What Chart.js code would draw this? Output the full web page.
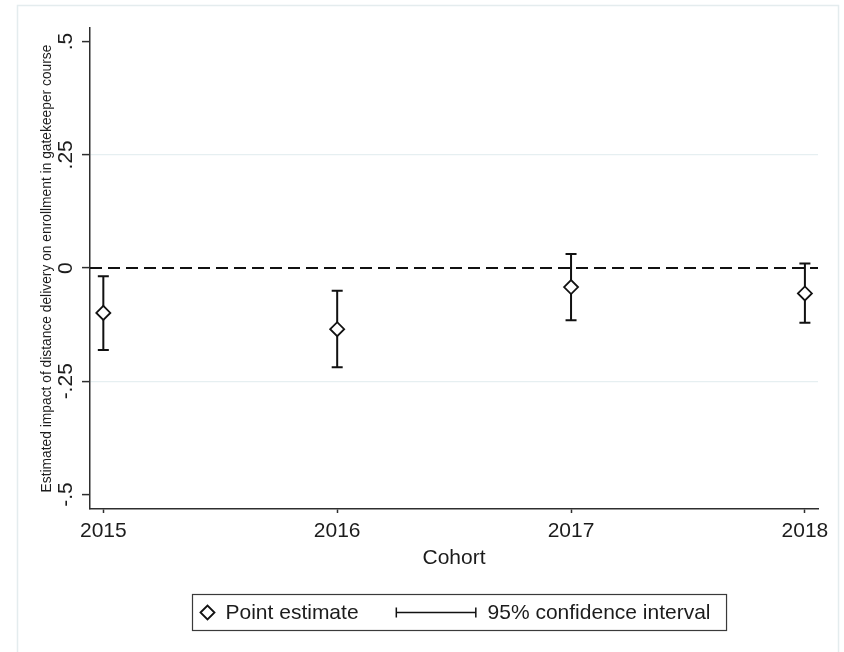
<!DOCTYPE html>
<html>
<head>
<meta charset="utf-8">
<script src="https://cdn.jsdelivr.net/npm/chart.js@4.4.0/dist/chart.umd.min.js"></script>
<style>
  html, body { margin: 0; padding: 0; background: #ffffff; }
  #wrap { width: 844px; height: 652px; }
  canvas { display: block; }
</style>
</head>
<body>
<div id="wrap"><canvas id="chart" width="844" height="652"></canvas></div>
<script>
// Cohorts and estimated effects with 95% confidence bounds
const cohorts = [2015, 2016, 2017, 2018];
const pointEstimate = [-0.099, -0.135, -0.042, -0.056];
const ciLower = [-0.181, -0.219, -0.115, -0.121];
const ciUpper = [-0.018, -0.050, 0.031, 0.010];
const yTicks = [-0.5, -0.25, 0, 0.25, 0.5];
const yTitle = 'Estimated impact of distance delivery on enrollment in gatekeeper course';
const xTitle = 'Cohort';
const legendLabels = ['Point estimate', '95% confidence interval'];

const FONT = '"Liberation Sans", Arial, Helvetica, sans-serif';
const INK = '#1c1c1c';
const AXIS = '#2e2e2e';
Chart.defaults.font.family = FONT;
Chart.defaults.color = INK;

// Stata-style tick text: ".25", "-.5", "0"
function fmtTick(v) {
  if (v === 0) return '0';
  return (v < 0 ? '-' : '') + String(Math.abs(v)).replace(/^0/, '');
}

// Outer graph-region frame and background
const framePlugin = {
  id: 'frame',
  beforeDraw(chart) {
    const ctx = chart.ctx;
    ctx.save();
    ctx.fillStyle = '#ffffff';
    ctx.fillRect(0, 0, chart.width, chart.height);
    ctx.strokeStyle = '#e4ecee';
    ctx.lineWidth = 1.5;
    ctx.strokeRect(17.5, 5.5, 821, chart.height + 20);
    ctx.restore();
  }
};

// Dashed reference line at zero and capped confidence intervals
const intervalPlugin = {
  id: 'intervals',
  beforeDatasetsDraw(chart) {
    const ctx = chart.ctx;
    const xs = chart.scales.x, ys = chart.scales.y;
    const area = chart.chartArea;
    ctx.save();
    const y0 = ys.getPixelForValue(0);
    ctx.strokeStyle = '#111111';
    ctx.lineWidth = 2;
    ctx.setLineDash([12, 6]);
    ctx.beginPath();
    ctx.moveTo(area.left, y0);
    ctx.lineTo(area.right, y0);
    ctx.stroke();
    ctx.setLineDash([]);

    ctx.lineWidth = 2;
    const cap = 5.5;
    cohorts.forEach((c, i) => {
      const x = xs.getPixelForValue(c);
      const yl = ys.getPixelForValue(ciLower[i]);
      const yu = ys.getPixelForValue(ciUpper[i]);
      ctx.beginPath();
      ctx.moveTo(x, yu); ctx.lineTo(x, yl);
      ctx.moveTo(x - cap, yu); ctx.lineTo(x + cap, yu);
      ctx.moveTo(x - cap, yl); ctx.lineTo(x + cap, yl);
      ctx.stroke();
    });
    ctx.restore();
  }
};

// Boxed legend below the axis title
const legendPlugin = {
  id: 'boxLegend',
  afterDraw(chart) {
    const ctx = chart.ctx;
    const area = chart.chartArea;
    ctx.save();
    ctx.font = '21px ' + FONT;
    const w1 = ctx.measureText(legendLabels[0]).width;
    const w2 = ctx.measureText(legendLabels[1]).width;
    const padL = 8, mark = 14, gap = 11, between = 37, seg = 81, padR = 16;
    const boxW = padL + mark + gap + w1 + between + seg + gap + w2 + padR;
    const cx = (area.left + area.right) / 2 + 5;
    const left = Math.round(cx - boxW / 2) + 0.5;
    const top = 594.5, h = 36;
    const cy = top + h / 2;

    ctx.strokeStyle = '#3a3a3a';
    ctx.lineWidth = 1.2;
    ctx.strokeRect(left, top, boxW, h);

    // diamond marker
    let x = left + padL + mark / 2;
    const r = 7;
    ctx.beginPath();
    ctx.moveTo(x - r, cy); ctx.lineTo(x, cy - r); ctx.lineTo(x + r, cy); ctx.lineTo(x, cy + r);
    ctx.closePath();
    ctx.fillStyle = '#ffffff';
    ctx.fill();
    ctx.strokeStyle = '#111111';
    ctx.lineWidth = 1.8;
    ctx.stroke();

    ctx.fillStyle = INK;
    ctx.textBaseline = 'middle';
    ctx.textAlign = 'left';
    x = left + padL + mark + gap;
    ctx.fillText(legendLabels[0], x, cy + 1);

    // capped segment
    x += w1 + between;
    ctx.strokeStyle = '#111111';
    ctx.lineWidth = 1.5;
    ctx.beginPath();
    ctx.moveTo(x, cy); ctx.lineTo(x + seg, cy);
    ctx.moveTo(x + 0.75, cy - 5); ctx.lineTo(x + 0.75, cy + 5);
    ctx.moveTo(x + seg - 0.75, cy - 5); ctx.lineTo(x + seg - 0.75, cy + 5);
    ctx.stroke();

    x += seg + gap;
    ctx.fillText(legendLabels[1], x, cy + 1);
    ctx.restore();
  }
};

new Chart(document.getElementById('chart'), {
  type: 'scatter',
  data: {
    datasets: [{
      label: legendLabels[0],
      data: cohorts.map((c, i) => ({ x: c, y: pointEstimate[i] })),
      pointStyle: 'rectRot',
      pointRadius: 7,
      pointHoverRadius: 7,
      borderWidth: 1.8,
      borderColor: '#111111',
      backgroundColor: '#ffffff',
      showLine: false
    }]
  },
  options: {
    responsive: false,
    animation: false,
    events: [],
    layout: { padding: { left: 0, right: 26, top: 28, bottom: 81 } },
    plugins: {
      legend: { display: false },
      tooltip: { enabled: false }
    },
    scales: {
      x: {
        type: 'linear',
        min: 2014.943,
        max: 2018.056,
        afterBuildTicks: s => { s.ticks = cohorts.map(v => ({ value: v })); },
        afterFit: s => { s.height = 62; },
        border: { display: true, color: AXIS, width: 1.5 },
        grid: { drawOnChartArea: false, drawTicks: true, tickLength: 4, tickColor: AXIS, tickWidth: 1.5 },
        ticks: {
          padding: 6,
          maxRotation: 0,
          font: { size: 21 },
          color: INK,
          callback: v => String(v)
        },
        title: {
          display: true,
          text: xTitle,
          font: { size: 21, lineHeight: 1.2 },
          color: INK,
          padding: { top: 0, bottom: 0 }
        }
      },
      y: {
        min: -0.532,
        max: 0.530,
        afterBuildTicks: s => { s.ticks = yTicks.map(v => ({ value: v })); },
        afterFit: s => { s.width = 90; },
        border: { display: true, color: AXIS, width: 1.5 },
        grid: {
          drawTicks: true,
          tickLength: 8,
          tickColor: AXIS,
          tickWidth: 1.5,
          lineWidth: 1.2,
          color: c => (c.tick && Math.abs(c.tick.value) === 0.25) ? '#e6eff1' : 'rgba(0,0,0,0)'
        },
        ticks: {
          minRotation: 90,
          maxRotation: 90,
          crossAlign: 'center',
          padding: -1.8,
          font: { size: 21 },
          color: INK,
          callback: v => fmtTick(v)
        },
        title: {
          display: true,
          text: yTitle,
          font: { size: 13.8, lineHeight: 1.2 },
          color: INK,
          padding: { top: 38.6, bottom: 0 }
        }
      }
    }
  },
  plugins: [framePlugin, intervalPlugin, legendPlugin]
});
</script>
</body>
</html>
